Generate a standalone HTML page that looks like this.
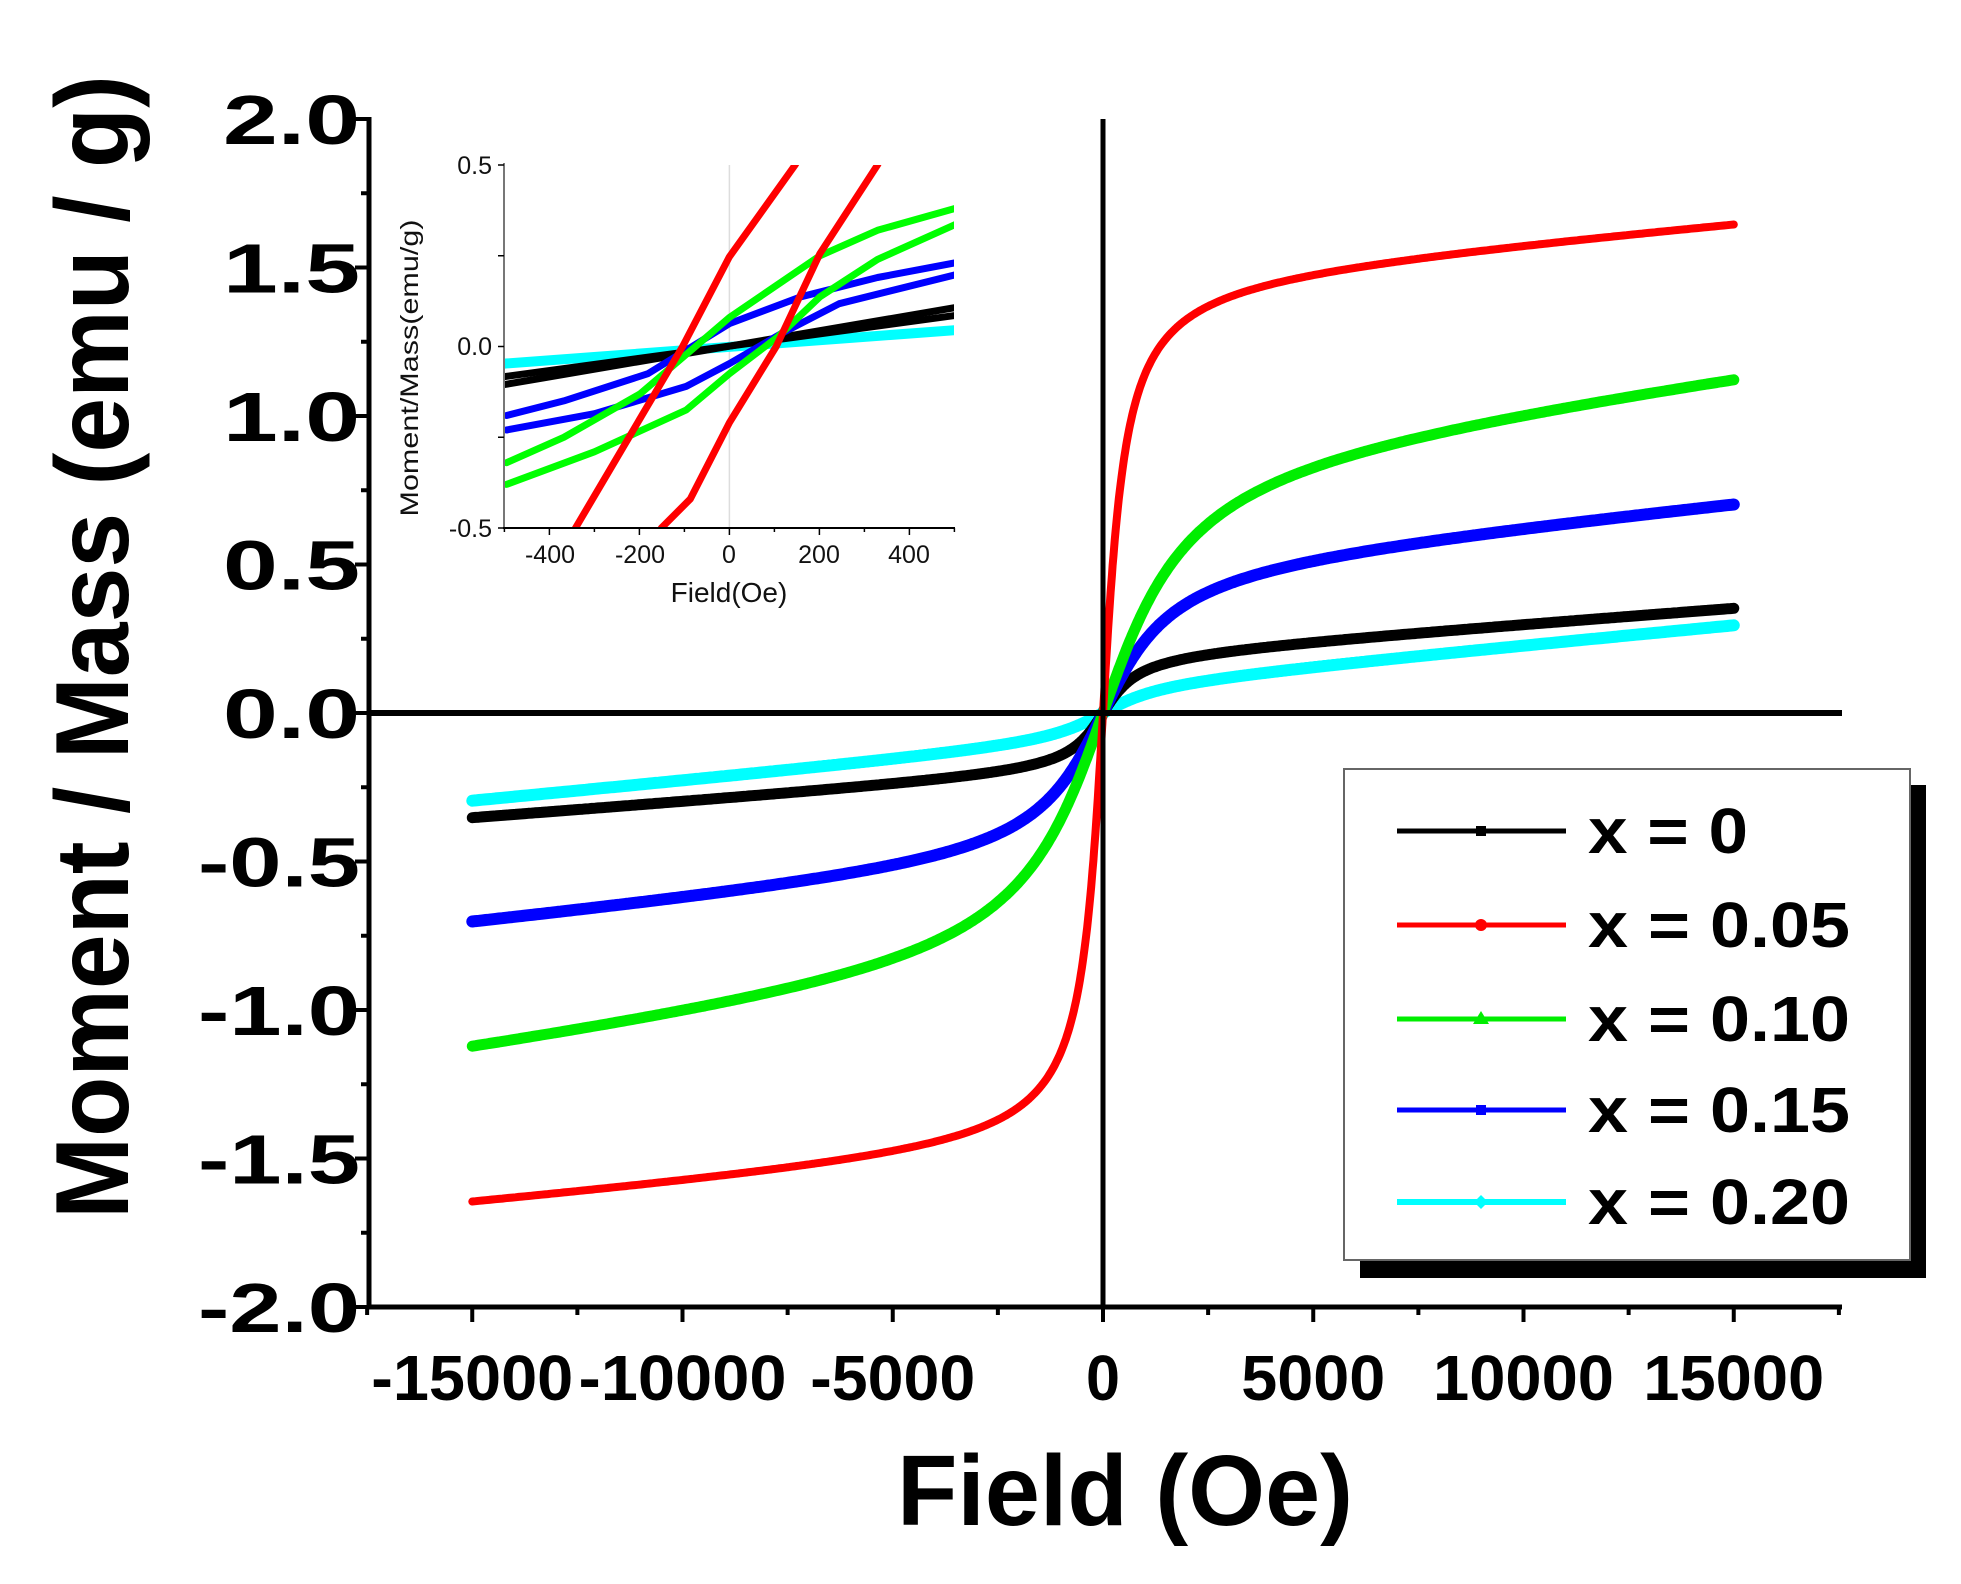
<!DOCTYPE html>
<html><head><meta charset="utf-8">
<style>
html,body{margin:0;padding:0;background:#fff;}
svg{display:block;}
text{font-family:"Liberation Sans",Arial,sans-serif;}
</style></head>
<body>
<svg id="s" width="1961" height="1584" viewBox="0 0 1961 1584" xmlns="http://www.w3.org/2000/svg">
<rect width="1961" height="1584" fill="#fff"/>
<defs>
<clipPath id="ic"><rect x="504" y="165" width="450" height="363"/></clipPath>
</defs>
<rect x="1360" y="785" width="566" height="493" fill="#000"/>
<rect x="1344" y="769" width="566" height="491" fill="#fff" stroke="#666" stroke-width="2"/>

<g id="main"></g>

<line x1="369" y1="117" x2="369" y2="1309" stroke="#000" stroke-width="5"/>
<line x1="367" y1="1307" x2="1842" y2="1307" stroke="#000" stroke-width="5"/>
<line x1="1103" y1="119" x2="1103" y2="1307" stroke="#000" stroke-width="5"/>
<line x1="369" y1="713" x2="1842" y2="713" stroke="#000" stroke-width="6"/>
<g id="ticks" stroke="#000" stroke-width="4"></g>

<g font-weight="bold" font-size="70" text-anchor="end" id="ylab"></g>
<g font-weight="bold" font-size="64" text-anchor="middle" id="xlab"></g>

<text x="1125" y="1525" font-size="100" font-weight="bold" text-anchor="middle" textLength="456" lengthAdjust="spacingAndGlyphs">Field (Oe)</text>
<text transform="translate(128,647) rotate(-90)" font-size="104" font-weight="bold" text-anchor="middle" textLength="1144" lengthAdjust="spacingAndGlyphs">Moment / Mass (emu / g)</text>

<g font-weight="bold" font-size="64">
<line x1="1397" y1="831" x2="1566" y2="831" stroke="#000" stroke-width="5"/><rect x="1476" y="826" width="10" height="10" fill="#000"/>
<text x="1588" y="853" textLength="160" lengthAdjust="spacingAndGlyphs">x = 0</text>
<line x1="1397" y1="925" x2="1566" y2="925" stroke="#ff0000" stroke-width="5"/><circle cx="1481" cy="925" r="6" fill="#ff0000"/>
<text x="1588" y="947" textLength="262" lengthAdjust="spacingAndGlyphs">x = 0.05</text>
<line x1="1397" y1="1019" x2="1566" y2="1019" stroke="#00ee00" stroke-width="5"/><polygon points="1481,1011 1489,1024 1473,1024" fill="#00ee00"/>
<text x="1588" y="1041" textLength="262" lengthAdjust="spacingAndGlyphs">x = 0.10</text>
<line x1="1397" y1="1110" x2="1566" y2="1110" stroke="#0000ff" stroke-width="5"/><rect x="1476" y="1105" width="10" height="10" fill="#0000ff"/>
<text x="1588" y="1132" textLength="262" lengthAdjust="spacingAndGlyphs">x = 0.15</text>
<line x1="1397" y1="1202" x2="1566" y2="1202" stroke="#00ffff" stroke-width="6"/><polygon points="1481,1195 1488,1202 1481,1209 1474,1202" fill="#00ffff"/>
<text x="1588" y="1224" textLength="262" lengthAdjust="spacingAndGlyphs">x = 0.20</text>
</g>

<line x1="729.4" y1="165" x2="729.4" y2="528" stroke="#ddd" stroke-width="1.5"/>
<g id="inset" clip-path="url(#ic)" fill="none" stroke-linejoin="round"></g>
<line x1="504" y1="163" x2="504" y2="528" stroke="#777" stroke-width="2"/>
<line x1="503" y1="528" x2="955" y2="528" stroke="#000" stroke-width="2"/>
<g id="iticks" stroke="#000" stroke-width="1.5"></g>
<g font-size="25" fill="#111">
<text x="492" y="174" text-anchor="end">0.5</text>
<text x="492" y="355" text-anchor="end">0.0</text>
<text x="492" y="537" text-anchor="end">-0.5</text>
<text x="550" y="563" text-anchor="middle">-400</text>
<text x="640" y="563" text-anchor="middle">-200</text>
<text x="729" y="563" text-anchor="middle">0</text>
<text x="819" y="563" text-anchor="middle">200</text>
<text x="909" y="563" text-anchor="middle">400</text>
<text x="729" y="602" font-size="28" text-anchor="middle">Field(Oe)</text>
<text transform="translate(418,368) rotate(-90)" font-size="25" text-anchor="middle" textLength="297" lengthAdjust="spacingAndGlyphs">Moment/Mass(emu/g)</text>
</g>
</svg>
<script>
var NS="http://www.w3.org/2000/svg";
function el(p,t,a){var e=document.createElementNS(NS,t);for(var k in a)e.setAttribute(k,a[k]);p.appendChild(e);return e;}
var X=function(h){return 1103+h*0.04205;}, Y=function(m){return 713-m*297;};
var ser=[
 {c:"#00ffff",A:0.10,H0:1000,k:0.0133,w:12},
 {c:"#000000",A:0.20,H0:600,k:0.0105,w:11},
 {c:"#0000ff",A:0.52,H0:1200,k:0.0139,w:12},
 {c:"#00ee00",A:0.90,H0:1500,k:0.0186,w:11},
 {c:"#ff0000",A:1.49,H0:400,k:0.012,w:8}
];
var g=document.getElementById("main");
ser.forEach(function(s){
 var pts=[];
 for(var i=0;i<=600;i++){
  var t=-1+2*i/600; var h=15000*Math.sign(t)*Math.pow(Math.abs(t),1.6);
  var m=s.A*2/Math.PI*Math.atan(h/s.H0)+s.k*h/1000;
  pts.push(X(h).toFixed(1)+","+Y(m).toFixed(1));
 }
 el(g,"polyline",{points:pts.join(" "),fill:"none",stroke:s.c,"stroke-width":s.w,"stroke-linejoin":"round","stroke-linecap":"round"});
});
var tk=document.getElementById("ticks");
for(var v=-2;v<=2.001;v+=0.25){var y=Y(v);var major=Math.abs(v*2-Math.round(v*2))<1e-6;el(tk,"line",{x1:369,y1:y,x2:major?355:361,y2:y});}
for(var h=-17500;h<=17500;h+=2500){var x=X(h);var major=h%5000===0;el(tk,"line",{x1:x,y1:1307,x2:x,y2:major?1322:1315});}
var yl=document.getElementById("ylab");
["2.0","1.5","1.0","0.5","0.0","-0.5","-1.0","-1.5","-2.0"].forEach(function(s,i){var t=el(yl,"text",{x:360,y:Y(2-i*0.5)+25,textLength:s.length==3?137:162,lengthAdjust:"spacingAndGlyphs"});t.textContent=s;});
var xl=document.getElementById("xlab");
var xw={"-15000":202,"-10000":208,"-5000":165,"0":34,"5000":144,"10000":181,"15000":181};
[-15000,-10000,-5000,0,5000,10000,15000].forEach(function(h){var s=String(h);var t=el(xl,"text",{x:X(h),y:1400,textLength:xw[s],lengthAdjust:"spacingAndGlyphs"});t.textContent=s;});
var IX=function(h){return 729.4+h*0.45;}, IY=function(m){return 346.5-m*363;};
var ins=document.getElementById("inset");
function pl(arr,c,w){el(ins,"polyline",{points:arr.map(function(p){return IX(p[0]).toFixed(1)+","+IY(p[1]).toFixed(1);}).join(" "),stroke:c,"stroke-width":w,"stroke-linecap":"round"});}
pl([[-500,-0.047],[500,0.045]],"#00ffff",10);
pl([[-500,-0.083],[500,0.085]],"#000",7);
pl([[-500,-0.105],[500,0.107]],"#000",7);
pl([[-495,-0.19],[-368,-0.15],[-181,-0.075],[0,0.063],[159,0.137],[329,0.19],[500,0.23]],"#0000ff",7);
pl([[-495,-0.23],[-300,-0.185],[-96,-0.11],[0,-0.047],[116,0.036],[244,0.118],[500,0.197]],"#0000ff",7);
pl([[-495,-0.32],[-368,-0.25],[-198,-0.13],[0,0.08],[201,0.25],[329,0.32],[500,0.38]],"#00ff00",7);
pl([[-495,-0.38],[-300,-0.29],[-96,-0.175],[0,-0.075],[108,0.027],[201,0.137],[329,0.24],[500,0.335]],"#00ff00",7);
pl([[-360,-0.55],[-342,-0.5],[-104,0],[0,0.247],[146,0.5],[170,0.55]],"#ff0000",7);
pl([[-170,-0.55],[-151,-0.5],[-87,-0.42],[0,-0.21],[104,0],[201,0.256],[329,0.5],[350,0.55]],"#ff0000",7);
var it=document.getElementById("iticks");
for(var h=-500;h<=500;h+=100){var x=IX(h);el(it,"line",{x1:x,y1:528,x2:x,y2:h%200===0&&h!==-500&&h!==500?535:532});}
[0.5,0,-0.5,-0.25,0.25].forEach(function(v){var y=IY(v);el(it,"line",{x1:504,y1:y,x2:498,y2:y});});
</script>
</body></html>
